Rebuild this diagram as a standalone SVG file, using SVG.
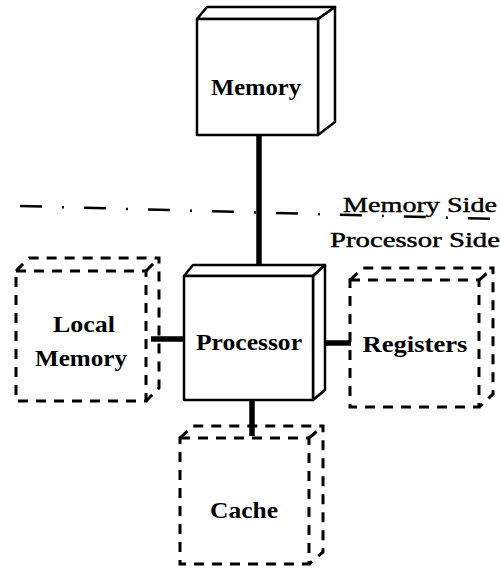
<svg xmlns="http://www.w3.org/2000/svg" width="501" height="570" viewBox="0 0 501 570">
  <style>
    .solid { fill: #fff; stroke: #000; stroke-width: 2.5; stroke-linejoin: round; }
    .dash { fill: none; stroke: #000; stroke-width: 3; stroke-dasharray: 10 8; stroke-linecap: butt; }
    .link { stroke: #000; stroke-width: 5.5; fill: none; }
    .label { font-family: "Liberation Serif", "DejaVu Serif", serif; font-weight: bold; font-size: 24px; fill: #000; text-anchor: middle; }
    .side { font-family: "Liberation Serif", "DejaVu Serif", serif; font-size: 20px; fill: #000; stroke: #000; stroke-width: 0.4; }
  </style>
  <rect width="501" height="570" fill="#fff"/>

  <!-- boundary between memory side and processor side -->
  <g id="boundary">
    <line x1="20" y1="206" x2="497" y2="219" stroke="#000" stroke-width="2.5" stroke-dasharray="22 20 2 20"/>
    <text class="side" x="343" y="212" textLength="154" lengthAdjust="spacingAndGlyphs">Memory Side</text>
    <text class="side" x="330" y="247" textLength="170" lengthAdjust="spacingAndGlyphs">Processor Side</text>
  </g>

  <!-- connectors -->
  <g id="connectors">
    <line class="link" x1="259" y1="135" x2="259" y2="272"/>
    <line class="link" x1="151" y1="339" x2="184" y2="339"/>
    <line class="link" x1="313" y1="343" x2="351" y2="343"/>
    <line class="link" x1="252" y1="400" x2="252" y2="436"/>
  </g>

  <!-- main memory: solid block -->
  <g id="memory">
    <polygon class="solid" points="197,19 207,7 335,7 318,19"/>
    <polygon class="solid" points="318,19 335,7 335,122 318,135"/>
    <rect class="solid" x="197" y="19" width="121" height="116"/>
    <text class="label" x="256" y="95" textLength="90" lengthAdjust="spacingAndGlyphs">Memory</text>
  </g>

  <!-- processor: solid block -->
  <g id="processor">
    <polygon class="solid" points="184,276 193,265 325,265 313,276"/>
    <polygon class="solid" points="313,276 325,265 325,390 313,400"/>
    <rect class="solid" x="184" y="276" width="129" height="124"/>
    <text class="label" x="249" y="350" textLength="106" lengthAdjust="spacingAndGlyphs">Processor</text>
  </g>

  <!-- local memory: dashed block -->
  <g id="local-memory">
    <path class="dash" d="M16,271 H146 V401 H16 Z"/>
    <path class="dash" d="M16,271 L29,258 H159 V388 L146,401 M146,271 L159,258"/>
    <text class="label" x="84" y="332" textLength="62" lengthAdjust="spacingAndGlyphs">Local</text>
    <text class="label" x="81" y="366" textLength="92" lengthAdjust="spacingAndGlyphs">Memory</text>
  </g>

  <!-- registers: dashed block -->
  <g id="registers">
    <path class="dash" d="M350,280 H479 V407 H350 Z"/>
    <path class="dash" d="M350,280 L363,268 H493 V394 L479,407 M479,280 L493,268"/>
    <text class="label" x="415" y="352" textLength="105" lengthAdjust="spacingAndGlyphs">Registers</text>
  </g>

  <!-- cache: dashed block -->
  <g id="cache">
    <path class="dash" d="M180,438 H309 V564 H180 Z"/>
    <path class="dash" d="M180,438 L193,426 H323 V552 L309,564 M309,438 L323,426"/>
    <text class="label" x="244" y="518" textLength="68" lengthAdjust="spacingAndGlyphs">Cache</text>
  </g>
</svg>
